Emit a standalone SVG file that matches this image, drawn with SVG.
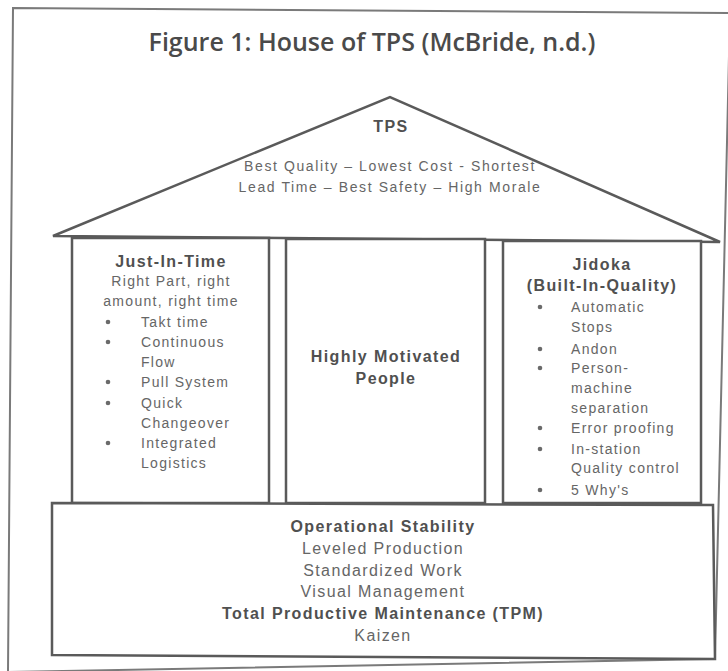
<svg xmlns="http://www.w3.org/2000/svg" width="728" height="671" viewBox="0 0 728 671">
<style>
.ln{fill:#fff;stroke:#5a5a5a;stroke-width:2.5}
.frame{fill:none;stroke:#7a7a7a;stroke-width:2}
.dot{fill:#6a6a6a}
text{font-family:"Liberation Sans",Arial,sans-serif;fill:#666;font-size:14px;letter-spacing:1.3px}
.c{text-anchor:middle}
.b{font-weight:bold;fill:#505050;font-size:16px;letter-spacing:1.4px}
.f{font-size:16px;letter-spacing:1.4px}
.r{letter-spacing:1.6px}
.t{font-family:"Open Sans","Noto Sans",sans-serif;font-size:25px;font-weight:600;fill:#4a4a4a;letter-spacing:0}
</style>
<rect width="728" height="671" fill="#fff"/>
<polygon class="frame" points="13,8 730,13 715,659 8,672"/>
<text class="t c" x="372" y="51">Figure 1: House of TPS (McBride, n.d.)</text>
<g id="roof">
<polygon class="ln" points="53,236 390,97 720,242"/>
<text class="b c" x="391" y="132" font-size="19">TPS</text>
<text class="c r" x="390" y="171">Best Quality – Lowest Cost - Shortest</text>
<text class="c r" x="390" y="192">Lead Time – Best Safety – High Morale</text>
</g>
<g id="jit">
<rect class="ln" x="72" y="238" width="197" height="265"/>
<text class="b c" x="171" y="267">Just-In-Time</text>
<text class="c" x="171" y="286">Right Part, right</text>
<text class="c" x="171" y="306">amount, right time</text>
<circle class="dot" cx="108" cy="322" r="2.3"/><text x="141" y="327">Takt time</text>
<circle class="dot" cx="108" cy="342" r="2.3"/><text x="141" y="347">Continuous</text>
<text x="141" y="367">Flow</text>
<circle class="dot" cx="108" cy="382" r="2.3"/><text x="141" y="387">Pull System</text>
<circle class="dot" cx="108" cy="403" r="2.3"/><text x="141" y="408">Quick</text>
<text x="141" y="428">Changeover</text>
<circle class="dot" cx="108" cy="443" r="2.3"/><text x="141" y="448">Integrated</text>
<text x="141" y="468">Logistics</text>
</g>
<g id="people">
<rect class="ln" x="286" y="239" width="199" height="264"/>
<text class="b c" x="386" y="362">Highly Motivated</text>
<text class="b c" x="386" y="384">People</text>
</g>
<g id="jidoka">
<rect class="ln" x="503" y="241" width="198" height="262"/>
<text class="b c" x="602" y="270">Jidoka</text>
<text class="b c" x="602" y="291">(Built-In-Quality)</text>
<circle class="dot" cx="540" cy="307" r="2.3"/><text x="571" y="312">Automatic</text>
<text x="571" y="332">Stops</text>
<circle class="dot" cx="540" cy="349" r="2.3"/><text x="571" y="354">Andon</text>
<circle class="dot" cx="540" cy="368" r="2.3"/><text x="571" y="373">Person-</text>
<text x="571" y="393">machine</text>
<text x="571" y="413">separation</text>
<circle class="dot" cx="540" cy="428" r="2.3"/><text x="571" y="433">Error proofing</text>
<circle class="dot" cx="540" cy="449" r="2.3"/><text x="571" y="454">In-station</text>
<text x="571" y="473">Quality control</text>
<circle class="dot" cx="540" cy="490" r="2.3"/><text x="571" y="495">5 Why's</text>
</g>
<g id="foundation">
<polygon class="ln" points="52,503 713,505 715,659 52,655"/>
<text class="b c" x="383" y="532">Operational Stability</text>
<text class="c f" x="383" y="554">Leveled Production</text>
<text class="c f" x="383" y="576">Standardized Work</text>
<text class="c f" x="383" y="597">Visual Management</text>
<text class="b c" x="383" y="619">Total Productive Maintenance (TPM)</text>
<text class="c f" x="383" y="641">Kaizen</text>
</g>
<g id="connectors"/>
</svg>
